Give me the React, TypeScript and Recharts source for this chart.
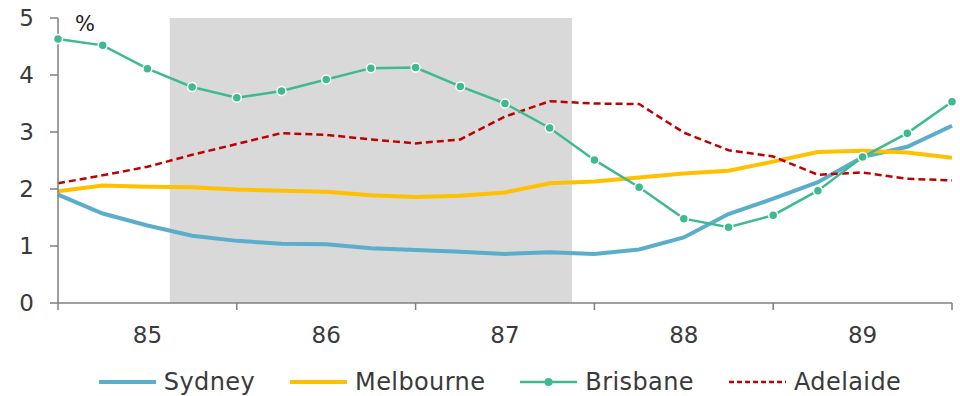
import React from 'react';
import { LineChart, Line, XAxis, YAxis, ReferenceArea, Legend } from 'recharts';

// Quarterly observations, 1984 Q4 through 1989 Q4 (index 0..20)
const quarters = [0, 1, 2, 3, 4, 5, 6, 7, 8, 9, 10, 11, 12, 13, 14, 15, 16, 17, 18, 19, 20];

const sydney = [1.9, 1.57, 1.36, 1.18, 1.09, 1.04, 1.03, 0.96, 0.93, 0.9, 0.86, 0.89, 0.86, 0.94, 1.15, 1.56, 1.83, 2.12, 2.56, 2.74, 3.11];
const melbourne = [1.96, 2.06, 2.04, 2.03, 1.99, 1.97, 1.95, 1.89, 1.86, 1.88, 1.94, 2.1, 2.13, 2.2, 2.27, 2.32, 2.48, 2.65, 2.67, 2.64, 2.55];
const brisbane = [4.63, 4.52, 4.11, 3.79, 3.6, 3.72, 3.92, 4.12, 4.13, 3.8, 3.5, 3.07, 2.51, 2.03, 1.48, 1.33, 1.54, 1.97, 2.56, 2.98, 3.53];
const adelaide = [2.1, 2.24, 2.39, 2.6, 2.79, 2.98, 2.95, 2.87, 2.8, 2.87, 3.27, 3.54, 3.5, 3.49, 2.99, 2.68, 2.57, 2.25, 2.29, 2.18, 2.15];

// Year labels sit in the middle of each four-quarter span
const yearLabels = ['85', '86', '87', '88', '89'];
const yTicks = [0, 1, 2, 3, 4, 5];

// Shaded period (in quarter index units)
const shadeStart = 2.5;
const shadeEnd = 11.5;

const COLORS = {
  sydney: '#5aadcb',
  melbourne: '#ffc000',
  brisbane: '#3fba90',
  adelaide: '#c00000',
  axis: '#7f7f7f',
  text: '#3a3a3a',
  shade: '#d9d9d9',
};

const FONT = '"DejaVu Sans", sans-serif';

const data = quarters.map((q, i) => ({
  q,
  sydney: sydney[i],
  melbourne: melbourne[i],
  brisbane: brisbane[i],
  adelaide: adelaide[i],
}));

const xTicks = quarters.filter((q) => q % 2 === 0);

const XTick = (props: any) => {
  const { x, y, payload } = props;
  const v = payload.value as number;
  if (v % 4 === 0) {
    return <line x1={x} y1={y} x2={x} y2={y + 7} stroke={COLORS.axis} strokeWidth={1.5} />;
  }
  const label = yearLabels[(v - 2) / 4];
  return (
    <text x={x} y={y + 40} textAnchor="middle" fill={COLORS.text} fontSize={23} fontFamily={FONT}>
      {label}
    </text>
  );
};

const legendItems = [
  { key: 'sydney', name: 'Sydney', color: COLORS.sydney, width: 4, dash: undefined, dot: false },
  { key: 'melbourne', name: 'Melbourne', color: COLORS.melbourne, width: 4, dash: undefined, dot: false },
  { key: 'brisbane', name: 'Brisbane', color: COLORS.brisbane, width: 2.5, dash: undefined, dot: true },
  { key: 'adelaide', name: 'Adelaide', color: COLORS.adelaide, width: 2.5, dash: '5 3', dot: false },
];

const LegendContent = () => (
  <div style={{ display: 'flex', justifyContent: 'center', alignItems: 'center', fontFamily: FONT }}>
    {legendItems.map((it, idx) => (
      <div
        key={it.key}
        style={{ display: 'flex', alignItems: 'center', marginLeft: idx === 0 ? 0 : 35 }}
      >
        <svg width={57} height={12} style={{ display: 'block' }}>
          <line
            x1={0}
            y1={6}
            x2={57}
            y2={6}
            stroke={it.color}
            strokeWidth={it.width}
            strokeDasharray={it.dash}
            strokeLinecap={it.dash ? 'butt' : 'round'}
          />
          {it.dot && <circle cx={28.5} cy={6} r={4} fill={it.color} />}
        </svg>
        <span
          style={{ marginLeft: 8, fontSize: 24, letterSpacing: 0.4, color: COLORS.text, lineHeight: '28px' }}
        >
          {it.name}
        </span>
      </div>
    ))}
  </div>
);

const PercentLabel = (props: any) => {
  const { viewBox } = props;
  return (
    <text
      x={viewBox.x + viewBox.width + 27}
      y={31}
      textAnchor="middle"
      fill="#222"
      fontSize={21}
      fontFamily={FONT}
    >
      %
    </text>
  );
};

export default function App() {
  return (
    <div style={{ position: 'absolute', left: 0, top: 0, width: 960, height: 396, background: '#fff' }}>
      <LineChart width={960} height={396} data={data} margin={{ top: 18, right: 8, left: 0, bottom: 0 }}>
        <ReferenceArea
          x1={shadeStart}
          x2={shadeEnd}
          y1={0}
          y2={5}
          fill={COLORS.shade}
          fillOpacity={1}
          stroke="none"
          ifOverflow="visible"
        />
        <XAxis
          dataKey="q"
          type="number"
          domain={[0, 20]}
          ticks={xTicks}
          interval={0}
          height={93}
          tickLine={false}
          tickSize={0}
          tickMargin={0}
          axisLine={{ stroke: COLORS.axis, strokeWidth: 1.5 }}
          tick={<XTick />}
        />
        <YAxis
          type="number"
          domain={[0, 5]}
          ticks={yTicks}
          interval={0}
          width={58}
          tickSize={8}
          tickMargin={16}
          axisLine={{ stroke: COLORS.axis, strokeWidth: 1.5 }}
          tickLine={{ stroke: COLORS.axis, strokeWidth: 1.5 }}
          tick={{ fill: COLORS.text, fontSize: 23, fontFamily: FONT }}
          label={<PercentLabel />}
        />
        <Line
          dataKey="sydney"
          name="Sydney"
          stroke={COLORS.sydney}
          strokeWidth={4}
          dot={false}
          type="linear"
          isAnimationActive={false}
        />
        <Line
          dataKey="melbourne"
          name="Melbourne"
          stroke={COLORS.melbourne}
          strokeWidth={4}
          dot={false}
          type="linear"
          isAnimationActive={false}
        />
        <Line
          dataKey="adelaide"
          name="Adelaide"
          stroke={COLORS.adelaide}
          strokeWidth={2.5}
          strokeDasharray="7 4"
          dot={false}
          type="linear"
          isAnimationActive={false}
        />
        <Line
          dataKey="brisbane"
          name="Brisbane"
          stroke={COLORS.brisbane}
          strokeWidth={2.5}
          dot={{ r: 4.5, fill: COLORS.brisbane, stroke: '#fff', strokeWidth: 1.5 }}
          type="linear"
          isAnimationActive={false}
        />
        <Legend
          layout="horizontal"
          verticalAlign="middle"
          align="center"
          wrapperStyle={{ top: 368, left: 50, width: 900 }}
          content={<LegendContent />}
        />
      </LineChart>
    </div>
  );
}
